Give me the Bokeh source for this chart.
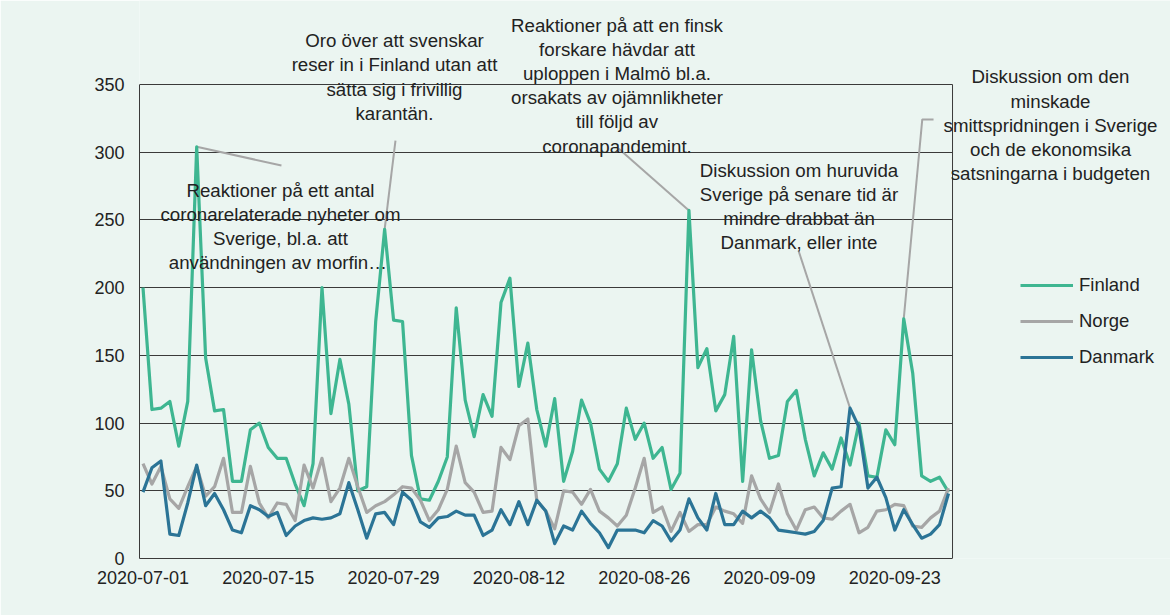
import pandas as pd
from bokeh.plotting import figure
from bokeh.models import (Range1d, FixedTicker, DatetimeTickFormatter, Legend, LegendItem, Label, Grid)
from bokeh.embed import file_html
from bokeh.resources import INLINE

# ---------------- data ----------------
start_date = "2020-07-01"
finland = [200, 110, 111, 116, 83, 116, 304, 148, 109, 110, 57, 57, 95, 100, 82, 74, 74, 55, 39, 70,
           200, 107, 147, 114, 50, 53, 175, 243, 176, 175, 76, 44, 43, 57, 75, 185, 117, 90, 121, 105,
           189, 207, 127, 159, 110, 83, 118, 57, 79, 117, 100, 66, 57, 70, 111, 88, 100, 74, 82, 51,
           63, 257, 141, 155, 109, 121, 164, 57, 154, 102, 74, 76, 116, 124, 88, 61, 78, 66, 89, 69,
           100, 61, 60, 95, 84, 177, 137, 61, 57, 60, 49]
norge = [70, 55, 68, 44, 37, 53, 68, 46, 53, 74, 34, 34, 68, 41, 30, 41, 40, 28, 69, 52,
         74, 42, 52, 74, 53, 34, 39, 42, 47, 53, 52, 43, 28, 36, 51, 83, 56, 49, 34, 35,
         82, 73, 98, 103, 43, 35, 22, 50, 49, 40, 51, 35, 30, 24, 32, 52, 74, 34, 38, 20,
         34, 20, 25, 25, 38, 35, 33, 26, 61, 44, 34, 55, 33, 21, 36, 38, 30, 29, 35, 40,
         19, 23, 35, 36, 40, 39, 24, 23, 30, 35, 52]
danmark = [49, 67, 72, 18, 17, 41, 69, 39, 48, 36, 21, 19, 39, 36, 31, 34, 17, 24, 28, 30,
           29, 30, 33, 56, 36, 15, 33, 34, 25, 49, 43, 27, 23, 30, 31, 35, 32, 32, 17, 21,
           36, 25, 42, 25, 43, 35, 11, 24, 21, 35, 26, 19, 8, 21, 21, 21, 19, 28, 24, 13,
           21, 44, 30, 21, 48, 25, 25, 35, 30, 35, 30, 21, 20, 19, 18, 20, 28, 52, 53, 111,
           97, 52, 60, 45, 21, 36, 25, 15, 18, 25, 48]
series_names = ["Finland", "Norge", "Danmark"]
tick_labels = ["2020-07-01", "2020-07-15", "2020-07-29", "2020-08-12",
               "2020-08-26", "2020-09-09", "2020-09-23"]
y_ticks = [0, 50, 100, 150, 200, 250, 300, 350]

annotations = [
    ("Reaktioner på ett antal\ncoronarelaterade nyheter om\nSverige, bl.a. att\nanvändningen  av morfin…", "Finland", 6),
    ("Oro över att svenskar\nreser in i Finland utan att\nsätta sig i frivillig\nkarantän.", "Finland", 27),
    ("Reaktioner på att en finsk\nforskare hävdar att\nuploppen i Malmö bl.a.\norsakats av ojämnlikheter\ntill följd av\ncoronapandemint.", "Finland", 61),
    ("Diskussion om huruvida\nSverige på senare tid är\nmindre drabbat än\nDanmark, eller inte", "Danmark", 79),
    ("Diskussion om den\nminskade\nsmittspridningen i Sverige\noch de ekonomsika\nsatsningarna i budgeten", "Finland", 85),
]

# ---------------- styling / layout ----------------
BG = "#EBF5F1"
COLORS = {"Finland": "#3EB691", "Norge": "#A6A6A6", "Danmark": "#2B7496"}
FONT = "Liberation Sans"
TXT = "#222222"
FRAME = "#3a3a3a"
DAY = 86400000.0
W, H = 1170, 615
LEFT, BOTTOM = 139, 57
PX_PER_DAY = 8.95
X0_DAY = -0.39          # left edge of plotting box (days from start)
BOX_END_DAY = 90.45     # right edge of the boxed plot area
Y_TOP = 350
PX_PER_UNIT = 474 / Y_TOP

start = pd.Timestamp(start_date)
dates = pd.date_range(start, periods=len(finland), freq="D")
start_ms = start.value / 1e6


def day_ms(d):
    return start_ms + d * DAY


frame_w = W - LEFT
frame_h = H - BOTTOM
p = figure(width=W, height=H, output_backend="svg", toolbar_location=None,
           x_axis_type="datetime",
           x_range=Range1d(day_ms(X0_DAY), day_ms(X0_DAY + frame_w / PX_PER_DAY)),
           y_range=Range1d(0, frame_h / PX_PER_UNIT),
           min_border_left=LEFT, min_border_right=0, min_border_top=0, min_border_bottom=BOTTOM)
p.background_fill_color = BG
p.border_fill_color = BG
p.outline_line_color = None

box_x0, box_x1 = day_ms(X0_DAY), day_ms(BOX_END_DAY)

p.xgrid.grid_line_color = None
p.ygrid.ticker = FixedTicker(ticks=y_ticks)
p.ygrid.grid_line_color = FRAME
p.ygrid.grid_line_width = 1
if "cross_bounds" in Grid.properties():
    p.ygrid.cross_bounds = (box_x0, box_x1)
else:
    p.ygrid.grid_line_color = None
    p.segment(x0=[box_x0] * len(y_ticks), x1=[box_x1] * len(y_ticks), y0=y_ticks, y1=y_ticks,
              line_color=FRAME, line_width=1)
# right edge of the boxed area
p.segment(x0=[box_x1], x1=[box_x1], y0=[y_ticks[0]], y1=[y_ticks[-1]], line_color=FRAME, line_width=1)

p.yaxis.ticker = FixedTicker(ticks=y_ticks)
p.yaxis.bounds = (y_ticks[0], y_ticks[-1])
p.xaxis.ticker = FixedTicker(ticks=[pd.Timestamp(s).value / 1e6 for s in tick_labels])
p.xaxis.bounds = (box_x0, box_x1)
fmt = "%Y-%m-%d"
p.xaxis.formatter = DatetimeTickFormatter(days=fmt, months=fmt, hours=fmt, years=fmt,
                                          minutes=fmt, seconds=fmt, milliseconds=fmt)
for ax in (p.xaxis, p.yaxis):
    ax.axis_line_color = FRAME
    ax.axis_line_width = 1
    ax.major_tick_line_color = None
    ax.minor_tick_line_color = None
    ax.major_tick_out = 0
    ax.major_tick_in = 0
    ax.minor_tick_out = 0
    ax.major_label_text_font = FONT
    ax.major_label_text_font_size = "18px"
    ax.major_label_text_color = TXT
p.xaxis.major_label_standoff = 12
p.yaxis.major_label_standoff = 15

data = {"Finland": finland, "Norge": norge, "Danmark": danmark}

# leader lines: label-side points (day offset, value) -> data point
leader_from = {
    6: [(15.47, 290.2)],
    27: [(28.21, 308.6)],
    61: [(53.13, 302.7)],
    79: [(73.24, 227.4)],
    85: [(88.33, 324.2), (87.07, 324.2)],
}
for text, name, idx in annotations:
    pts = leader_from[idx]
    xs = [day_ms(d) for d, _ in pts] + [dates[idx]]
    ys = [v for _, v in pts] + [data[name][idx]]
    p.line(xs, ys, line_color="#A6A6A6", line_width=2)

renderers = {}
for name in series_names:
    renderers[name] = p.line(dates, data[name], line_color=COLORS[name], line_width=3.2,
                             line_join="round")

legend = Legend(items=[LegendItem(label=n, renderers=[renderers[n]]) for n in series_names],
                location=(881, 190), background_fill_alpha=0, border_line_alpha=0,
                padding=0, margin=0, spacing=14, glyph_width=53, glyph_height=20,
                label_height=20, label_standoff=6,
                label_text_font=FONT, label_text_font_size="18.5px", label_text_color=TXT)
p.add_layout(legend)

# annotation text positions (day offset, value at top of text block)
text_pos = {6: (15.36, 279.7), 27: (28.1, 390.0), 61: (52.96, 401.5), 79: (73.3, 294.4), 85: (101.4, 363.3)}
for text, name, idx in annotations:
    d, v = text_pos[idx]
    p.add_layout(Label(x=day_ms(d), y=v, text=text, text_align="center", text_baseline="top",
                       text_font=FONT, text_font_size="18.7px", text_color=TXT,
                       text_line_height=1.15))

html = file_html(p, INLINE)
html = html.replace("<body>", '<body style="background:%s">' % BG, 1)
open("out.html", "w").write(html)
